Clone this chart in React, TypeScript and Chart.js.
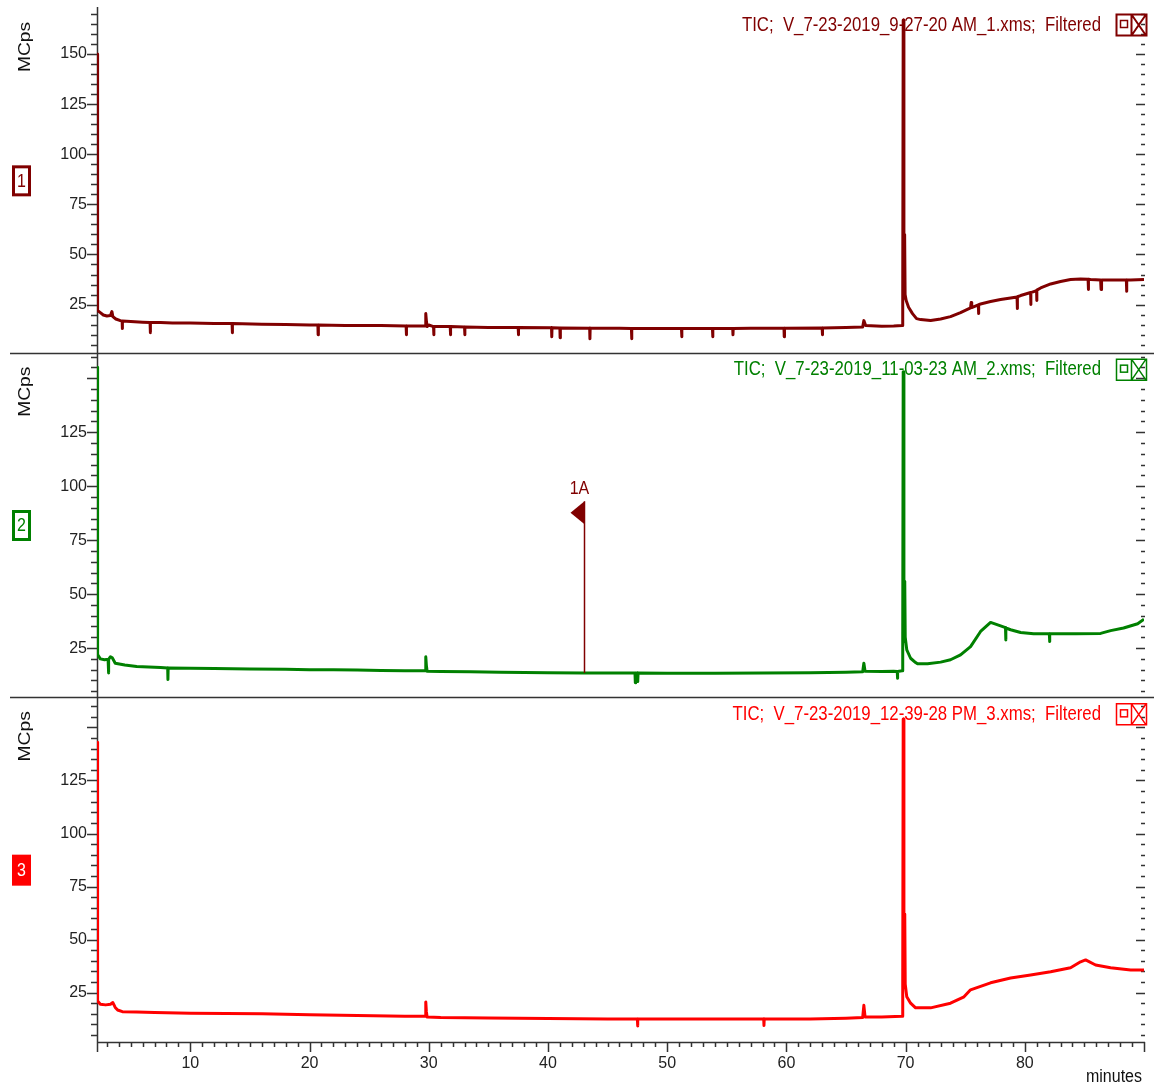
import React, { useEffect, useRef } from 'react';
import { Chart, registerables } from 'chart.js';

Chart.register(...registerables);

const FONT = "'Liberation Sans', Arial, sans-serif";

const panelNumbers = ['1', '2', '3'];
const panelColors = ['#800000', '#008000', '#ff0000'];
const panelTitles = [
  'TIC;  V_7-23-2019_9-27-20 AM_1.xms;  Filtered',
  'TIC;  V_7-23-2019_11-03-23 AM_2.xms;  Filtered',
  'TIC;  V_7-23-2019_12-39-28 PM_3.xms;  Filtered',
];
const yAxisTitle = 'MCps';
const xAxisTitle = 'minutes';
const xTickLabels = [10, 20, 30, 40, 50, 60, 70, 80];
const xRange = [2.17, 90];
const yRanges = [
  [1, 173],
  [2.2, 161.8],
  [1.7, 164.2],
];
const yTickLabels = [
  [25, 50, 75, 100, 125, 150],
  [25, 50, 75, 100, 125],
  [25, 50, 75, 100, 125],
];

// TIC traces: [minutes, MCps]
const tic1: [number, number][] = [
  [2.17, 150], [2.19, 24.5], [2.25, 22], [2.45, 21], [2.7, 19.8], [3.0, 19.3], [3.3, 19.5], [3.42, 21.5],
  [3.5, 19], [3.75, 17.8], [4.13, 17], [4.28, 16.8], [4.29, 13], [4.31, 16.8], [5.0, 16.5], [6.0, 16.2],
  [6.62, 16], [6.64, 11], [6.66, 16], [7.5, 16], [8.5, 15.8], [10, 15.8], [12, 15.6], [13.5, 15.5],
  [13.52, 11], [13.54, 15.5], [16, 15.2], [18, 15], [20, 14.8], [20.7, 14.8], [20.72, 10], [20.74, 14.8],
  [23, 14.5], [26, 14.5], [28.1, 14.3], [28.12, 10], [28.14, 14.3], [29.7, 14.3], [29.75, 20.5], [29.8, 17],
  [29.86, 14], [30.0, 14.8], [30.4, 14], [30.42, 10], [30.44, 14], [31.8, 14], [31.82, 10], [31.84, 14],
  [33, 13.8], [33.02, 10], [33.04, 13.8], [35, 13.6], [37.5, 13.5], [37.52, 10], [37.54, 13.5], [40.3, 13.4],
  [40.32, 9], [40.34, 13.4], [41, 13.3], [41.02, 8.5], [41.04, 13.3], [43.5, 13.2], [43.52, 8], [43.54, 13.2],
  [46, 13.2], [47, 13], [47.02, 8], [47.04, 13], [50, 13], [51.2, 13], [51.22, 9], [51.24, 13],
  [53.8, 13], [53.82, 9], [53.84, 13], [55.5, 13], [55.52, 10], [55.54, 13], [57, 13.2], [59.8, 13.2],
  [59.82, 9], [59.84, 13.2], [63, 13.3], [63.02, 10], [63.04, 13.3], [65, 13.5], [66.4, 13.8], [66.5, 17],
  [66.65, 14.5], [68, 14.2], [69, 14.3], [69.72, 14.5], [69.76, 28], [69.8, 167], [69.86, 28], [69.92, 60],
  [69.96, 30], [70.05, 27], [70.25, 23.7], [70.58, 20.5], [70.92, 18], [71.26, 17.5], [72.1, 17], [72.94, 17.8],
  [73.77, 19], [74.61, 21], [75.45, 23.3], [75.5, 26], [75.55, 23.5], [76.1, 24.8], [76.12, 20.5], [76.14, 25],
  [76.29, 25.3], [77.13, 26.5], [77.97, 27.5], [78.81, 28.3], [79.35, 28.8], [79.37, 23], [79.39, 28.9], [79.65, 29.5],
  [80.49, 31], [80.5, 25], [80.52, 31], [80.99, 32], [81.0, 27], [81.02, 32.2], [81.33, 33.3], [82.17, 35.3],
  [83.0, 36.5], [83.84, 37.5], [84.68, 37.8], [85.31, 37.6], [85.33, 32.5], [85.35, 37.6], [85.52, 37.5], [86.36, 37.3],
  [86.4, 32.5], [86.44, 37.3], [87.2, 37.3], [88.04, 37.3], [88.52, 37.3], [88.54, 31.6], [88.56, 37.3], [88.88, 37.3],
  [90, 37.5],
];

const tic2: [number, number][] = [
  [2.17, 155], [2.19, 25], [2.25, 22], [2.45, 20], [2.8, 19.6], [3.1, 19.8], [3.13, 13.5], [3.16, 19.8],
  [3.3, 21], [3.45, 20.5], [3.7, 18], [4.5, 17.2], [5.5, 16.5], [7.5, 16], [8.1, 15.8], [8.12, 10.5],
  [8.14, 15.8], [10, 15.7], [12, 15.6], [15, 15.3], [18, 15.2], [20, 15], [22, 15], [24, 14.8],
  [26, 14.6], [28, 14.5], [29.7, 14.5], [29.75, 21], [29.8, 17], [29.86, 14.3], [31, 14.2], [33.5, 14],
  [36, 13.8], [40, 13.6], [43, 13.5], [45, 13.5], [47.3, 13.5], [47.33, 9], [47.36, 13.5], [47.5, 13.5],
  [47.53, 9.5], [47.56, 13.5], [50, 13.4], [54, 13.4], [58, 13.5], [62, 13.6], [65, 13.8], [66.4, 14],
  [66.5, 18], [66.6, 14.3], [68, 14.2], [69.0, 14.3], [69.3, 14.2], [69.32, 11], [69.34, 14.2], [69.7, 14.5],
  [69.76, 28], [69.8, 153], [69.86, 28], [69.93, 56], [69.97, 30], [70.1, 24.2], [70.42, 20.3], [70.84, 18.3],
  [71.0, 17.7], [71.84, 17.7], [72.94, 18.5], [73.77, 19.6], [74.61, 21.9], [75.45, 25.7], [76.29, 32.7], [77.13, 36.9],
  [77.97, 35.3], [78.38, 34.5], [78.4, 28.8], [78.42, 34.3], [78.81, 33.5], [79.65, 32.2], [80.74, 31.6], [82.06, 31.6],
  [82.08, 28], [82.1, 31.6], [84.26, 31.6], [86.36, 31.8], [87.2, 33.1], [88.29, 34.3], [89.47, 36.3], [90, 38.4],
];

const tic3: [number, number][] = [
  [2.17, 143], [2.19, 25.5], [2.25, 21], [2.45, 19.5], [2.9, 19.2], [3.3, 19.5], [3.5, 20.3], [3.7, 18],
  [3.9, 16.8], [4.3, 16], [5.5, 15.8], [7, 15.6], [10, 15.3], [13, 15.1], [16, 15], [20, 14.6],
  [24, 14.2], [28, 13.8], [29.7, 13.8], [29.75, 20.6], [29.8, 16], [29.86, 13.5], [31, 13.2], [35, 13],
  [40, 12.8], [45, 12.6], [47.5, 12.5], [47.52, 9.3], [47.54, 12.5], [52, 12.5], [56, 12.5], [58.1, 12.5],
  [58.12, 9.5], [58.14, 12.5], [62, 12.6], [65, 12.9], [66.4, 13.2], [66.5, 19], [66.6, 13.5], [68, 13.5],
  [69.7, 13.8], [69.76, 28], [69.8, 154], [69.86, 28], [69.93, 62], [69.97, 29], [70.1, 23], [70.42, 20],
  [70.84, 17.8], [72.1, 17.8], [73.77, 20], [74.9, 23], [75.45, 26.3], [77.13, 29.6], [78.81, 31.9], [80.49, 33.3],
  [82.17, 34.8], [83.84, 36.7], [84.68, 39.5], [85.1, 40.4], [85.94, 38], [87.2, 36.7], [88.88, 35.7], [90, 35.7],
];

const traces = [tic1, tic2, tic3];

// Peak marker shown in panel 2
const markerTimes = [43.0];
const markerLabels = ['1A'];
const markerTops = [93];
const markerBases = [13.5];
const markerPanel = 1;
const markerColor = '#800000';

const panelAxisIds = ['y1', 'y2', 'y3'];

function drawText(ctx: CanvasRenderingContext2D, text: string, x: number, y: number, size: number,
  color: string, align: CanvasTextAlign, stretch = 1.18, rotate = 0) {
  ctx.save();
  ctx.translate(x, y);
  if (rotate) {
    ctx.rotate(rotate);
    ctx.scale(stretch, 1);
  } else {
    ctx.scale(1, stretch);
  }
  ctx.font = `${size}px ${FONT}`;
  ctx.fillStyle = color;
  ctx.textAlign = align;
  ctx.textBaseline = 'middle';
  ctx.fillText(text, 0, 0);
  ctx.restore();
}

const decorPlugin = {
  id: 'decor',
  beforeDatasetsDraw(chart: any) {
    const ctx: CanvasRenderingContext2D = chart.ctx;
    const ca = chart.chartArea;
    const xs = chart.scales.x;
    ctx.save();
    ctx.strokeStyle = '#333';
    ctx.lineWidth = 1.5;
    ctx.beginPath();
    // panel separators
    for (let i = 0; i < 2; i++) {
      const y = Math.round(chart.scales[panelAxisIds[i]].bottom) + 0.5;
      ctx.moveTo(10, y);
      ctx.lineTo(chart.width, y);
    }
    // x axis
    ctx.moveTo(ca.left, Math.round(ca.bottom) + 0.5);
    ctx.lineTo(ca.right + 1, Math.round(ca.bottom) + 0.5);
    // y axis
    ctx.moveTo(Math.round(ca.left) + 0.5, ca.top - 1);
    ctx.lineTo(Math.round(ca.left) + 0.5, ca.bottom + 10);
    ctx.stroke();

    // y ticks (left and right), per panel
    ctx.beginPath();
    panelAxisIds.forEach((id) => {
      const s = chart.scales[id];
      for (let v = Math.ceil(s.min / 5) * 5; v <= s.max; v += 5) {
        const y = Math.round(s.getPixelForValue(v)) + 0.5;
        const major = v % 25 === 0;
        ctx.moveTo(ca.left - (major ? 10 : 6), y);
        ctx.lineTo(ca.left, y);
        ctx.moveTo(ca.right + 1 - (major ? 9 : 4), y);
        ctx.lineTo(ca.right + 1, y);
      }
    });
    // x ticks
    for (let t = Math.ceil(xs.min); t <= xs.max; t += 1) {
      const x = Math.round(xs.getPixelForValue(t)) + 0.5;
      const major = t % 10 === 0;
      ctx.moveTo(x, ca.bottom);
      ctx.lineTo(x, ca.bottom + (major ? 10 : 5));
    }
    ctx.stroke();
    ctx.restore();
  },
  afterDatasetsDraw(chart: any) {
    const ctx: CanvasRenderingContext2D = chart.ctx;
    const ca = chart.chartArea;
    const xs = chart.scales.x;
    ctx.save();
    panelAxisIds.forEach((id, i) => {
      const s = chart.scales[id];
      const color = panelColors[i];
      const mid = (s.top + s.bottom) / 2;
      // axis title
      drawText(ctx, yAxisTitle, 26, s.top + 39, 16, '#111', 'center', 1.2, -Math.PI / 2);
      // panel number box
      ctx.lineWidth = 3;
      if (i === 2) {
        ctx.fillStyle = color;
        ctx.fillRect(12, mid - 15, 19, 31);
        drawText(ctx, panelNumbers[i], 21.5, mid + 1, 16, '#fff', 'center', 1.2);
      } else {
        ctx.fillStyle = '#fff';
        ctx.strokeStyle = color;
        ctx.fillRect(13.5, mid - 13.5, 16, 28);
        ctx.strokeRect(13.5, mid - 13.5, 16, 28);
        drawText(ctx, panelNumbers[i], 21.5, mid + 1, 16, color, 'center', 1.2);
      }
      // title
      const ty = s.top + 17;
      drawText(ctx, panelTitles[i], 1101, ty, 16.8, color, 'right', 1.2);
      // icon
      ctx.strokeStyle = color;
      ctx.lineWidth = i === 0 ? 2 : 1.5;
      ctx.fillStyle = '#fff';
      ctx.beginPath();
      ctx.rect(1116.5, ty - 10.5, 30, 21);
      ctx.moveTo(1131.5, ty - 10.5);
      ctx.lineTo(1131.5, ty + 10.5);
      ctx.moveTo(1131.5, ty - 10.5);
      ctx.lineTo(1146, ty + 10.5);
      ctx.moveTo(1146, ty - 10.5);
      ctx.lineTo(1131.5, ty + 10.5);
      ctx.stroke();
      ctx.lineWidth = 1.5;
      ctx.strokeRect(1120.5, ty - 4.5, 7, 7);
    });

    // markers
    const ms = chart.scales[panelAxisIds[markerPanel]];
    markerTimes.forEach((t, k) => {
      const x = Math.round(xs.getPixelForValue(t)) + 0.5;
      const yTop = ms.getPixelForValue(markerTops[k]);
      const yBase = ms.getPixelForValue(markerBases[k]);
      ctx.strokeStyle = markerColor;
      ctx.lineWidth = 1.5;
      ctx.beginPath();
      ctx.moveTo(x, yTop);
      ctx.lineTo(x, yBase);
      ctx.stroke();
      ctx.fillStyle = markerColor;
      ctx.beginPath();
      ctx.moveTo(x, yTop);
      ctx.lineTo(x - 14, yTop + 11.5);
      ctx.lineTo(x, yTop + 23);
      ctx.closePath();
      ctx.fill();
      drawText(ctx, markerLabels[k], x - 5, yTop - 12, 16, markerColor, 'center', 1.15);
    });

    // x axis title
    drawText(ctx, xAxisTitle, 1142, ca.bottom + 35, 16, '#111', 'right', 1.15);
    ctx.restore();
  },
};

export default function App() {
  const canvasRef = useRef<HTMLCanvasElement | null>(null);

  useEffect(() => {
    const canvas = canvasRef.current;
    if (!canvas) return;

    const yScale = (i: number) => ({
      type: 'linear',
      position: 'left',
      stack: 'panels',
      stackWeight: 1,
      min: yRanges[i][0],
      max: yRanges[i][1],
      grid: { display: false, drawTicks: false },
      border: { display: false },
      ticks: {
        stepSize: 25,
        includeBounds: false,
        autoSkip: false,
        padding: 10,
        color: '#222',
        font: { family: FONT, size: 16 },
        callback: (v: number) => (yTickLabels[i].includes(v) ? String(v) : ''),
      },
      afterFit: (s: any) => {
        s.width = 97;
        s.paddingTop = 0;
        s.paddingBottom = 0;
      },
    });

    const chart = new Chart(canvas, {
      type: 'line',
      data: {
        datasets: traces.map((tr, i) => ({
          label: panelTitles[i],
          data: tr.map(([x, y]) => ({ x, y })),
          yAxisID: panelAxisIds[i],
          borderColor: panelColors[i],
          borderWidth: 3,
          borderJoinStyle: 'round',
          pointRadius: 0,
          tension: 0,
          fill: false,
        })),
      },
      options: {
        responsive: false,
        animation: false,
        events: [],
        layout: { padding: { left: 0, right: 10, top: 8, bottom: 0 } },
        plugins: { legend: { display: false }, tooltip: { enabled: false } },
        scales: {
          x: {
            type: 'linear',
            position: 'bottom',
            min: xRange[0],
            max: xRange[1],
            grid: { display: false, drawTicks: false },
            border: { display: false },
            ticks: {
              stepSize: 10,
              includeBounds: false,
              autoSkip: false,
              maxRotation: 0,
              padding: 12,
              color: '#222',
              font: { family: FONT, size: 16 },
              callback: (v: number) => (xTickLabels.includes(v) ? String(v) : ''),
            },
            afterFit: (s: any) => {
              s.height = 49;
              s.paddingLeft = 0;
              s.paddingRight = 0;
            },
          },
          y3: yScale(2),
          y2: yScale(1),
          y1: yScale(0),
        } as any,
      },
      plugins: [decorPlugin],
    });

    return () => chart.destroy();
  }, []);

  return (
    <div style={{ position: 'absolute', left: 0, top: 0, width: 1154, height: 1091, background: '#fff' }}>
      <canvas ref={canvasRef} width={1154} height={1091} style={{ display: 'block' }} />
    </div>
  );
}
